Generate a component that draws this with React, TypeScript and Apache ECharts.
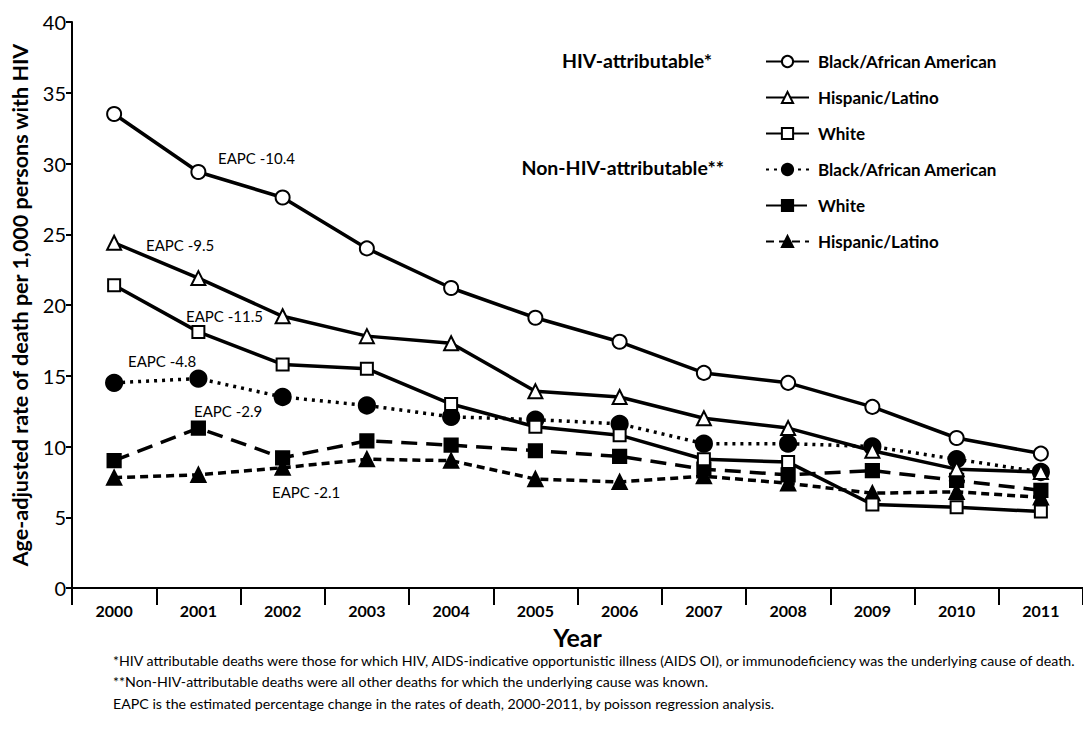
import React, { useEffect, useRef } from "react";
import * as echarts from "echarts";

const years = ["2000", "2001", "2002", "2003", "2004", "2005", "2006", "2007", "2008", "2009", "2010", "2011"];
const hivBlack = [33.5, 29.4, 27.6, 24.0, 21.2, 19.1, 17.4, 15.2, 14.5, 12.8, 10.6, 9.5];
const hivHispanic = [24.4, 21.9, 19.2, 17.8, 17.3, 13.9, 13.5, 12.0, 11.3, 9.7, 8.4, 8.2];
const hivWhite = [21.4, 18.1, 15.8, 15.5, 13.0, 11.4, 10.8, 9.1, 8.9, 5.9, 5.7, 5.4];
const nonBlack = [14.5, 14.8, 13.5, 12.9, 12.1, 11.9, 11.6, 10.2, 10.2, 10.0, 9.1, 8.2];
const nonWhite = [9.0, 11.3, 9.2, 10.4, 10.1, 9.7, 9.3, 8.4, 8.0, 8.3, 7.6, 6.9];
const nonHispanic = [7.8, 8.0, 8.5, 9.1, 9.0, 7.7, 7.5, 7.9, 7.4, 6.7, 6.8, 6.4];

const legendLabels: Record<string, string> = {
  hivBlack: "Black/African American",
  hivHispanic: "Hispanic/Latino",
  hivWhite: "White",
  nonBlack: "Black/African American",
  nonWhite: "White",
  nonHispanic: "Hispanic/Latino",
};

const eapcLabels = [
  { text: "EAPC -10.4", x: 218, y: 158 },
  { text: "EAPC -9.5", x: 146, y: 245 },
  { text: "EAPC -11.5", x: 186, y: 316 },
  { text: "EAPC -4.8", x: 128, y: 361 },
  { text: "EAPC -2.9", x: 194, y: 411 },
  { text: "EAPC -2.1", x: 272, y: 492 },
];

const footnotes = [
  "*HIV attributable deaths were those for which HIV, AIDS-indicative opportunistic illness (AIDS OI), or immunodeficiency was the underlying cause of death.",
  "**Non-HIV-attributable deaths were all other deaths for which the underlying cause was known.",
  "EAPC is the estimated percentage change in the rates of death, 2000-2011, by poisson regression analysis.",
];

const FONT = "Lato, 'Open Sans', sans-serif";

export default function App() {
  const ref = useRef<HTMLDivElement>(null);
  useEffect(() => {
    if (!ref.current) return;
    const chart = echarts.init(ref.current, undefined, { renderer: "svg" });
    const base = (name: string, data: number[], symbol: string, size: number, lineType: any, width: number) => ({
      name,
      type: "line",
      data,
      symbol,
      symbolSize: size,
      showSymbol: true,
      lineStyle: { color: "#000", width, type: lineType },
      itemStyle: { color: "#000", borderColor: "#000", borderWidth: 2.2 },
      emphasis: { disabled: true },
    });
    chart.setOption({
      animation: false,
      backgroundColor: "#fff",
      textStyle: { fontFamily: FONT, color: "#000" },
      grid: { left: 72, right: -4, top: 22, bottom: 150 },
      xAxis: {
        type: "category",
        data: years,
        boundaryGap: true,
        axisLine: { lineStyle: { color: "#000", width: 2 } },
        axisTick: { show: true, alignWithLabel: false, length: 17, lineStyle: { color: "#000", width: 2 } },
        axisLabel: { color: "#000", fontWeight: "bold", fontSize: 16, margin: 14, fontFamily: FONT },
        name: "Year",
        nameLocation: "middle",
        nameGap: 36,
        nameTextStyle: { fontWeight: "bold", fontSize: 25, color: "#000", fontFamily: FONT },
      },
      yAxis: {
        type: "value",
        min: 0,
        max: 40,
        interval: 5,
        splitLine: { show: false },
        axisLine: { show: true, lineStyle: { color: "#000", width: 2 } },
        axisTick: { show: true, length: 6, lineStyle: { color: "#000", width: 2 } },
        axisLabel: { color: "#000", fontSize: 20, margin: 6, fontFamily: FONT },
        name: "Age-adjusted rate of death per 1,000 persons with HIV",
        nameLocation: "middle",
        nameGap: 41,
        nameTextStyle: { fontWeight: "bold", fontSize: 21.5, color: "#000", fontFamily: FONT },
      },
      legend: {
        orient: "vertical",
        left: 760,
        top: 48,
        itemWidth: 43,
        itemHeight: 14,
        itemGap: 19,
        selectedMode: false,
        formatter: (n: string) => legendLabels[n],
        textStyle: { fontWeight: "bold", fontSize: 17, color: "#000", fontFamily: FONT, padding: [0, 0, 0, 4] },
        data: ["hivBlack", "hivHispanic", "hivWhite", "nonBlack", "nonWhite", "nonHispanic"],
      },
      series: [
        base("nonHispanic", nonHispanic, "triangle", 14, [8, 5], 3.5),
        base("nonWhite", nonWhite, "rect", 13, [16, 9], 3.5),
        base("nonBlack", nonBlack, "circle", 16, [3, 5], 3.5),
        base("hivWhite", hivWhite, "emptyRect", 12, "solid", 3.5),
        base("hivHispanic", hivHispanic, "emptyTriangle", 14, "solid", 3.5),
        base("hivBlack", hivBlack, "emptyCircle", 14, "solid", 3.5),
      ],
      graphic: [
        ...eapcLabels.map((l) => ({
          type: "text",
          x: l.x,
          y: l.y,
          style: { text: l.text, fontSize: 15, fill: "#000", fontFamily: FONT, verticalAlign: "middle" },
        })),
        {
          type: "text",
          x: 712,
          y: 60,
          style: { text: "HIV-attributable*", fontSize: 19.5, fontWeight: "bold", fill: "#000", fontFamily: FONT, align: "right", verticalAlign: "middle" },
        },
        {
          type: "text",
          x: 724,
          y: 167,
          style: { text: "Non-HIV-attributable**", fontSize: 19.5, fontWeight: "bold", fill: "#000", fontFamily: FONT, align: "right", verticalAlign: "middle" },
        },
        ...footnotes.map((t, i) => ({
          type: "text",
          x: 113,
          y: 660 + i * 21.5,
          style: { text: t, fontSize: 14.2, fill: "#000", fontFamily: FONT, verticalAlign: "middle" },
        })),
      ],
    });
    return () => chart.dispose();
  }, []);
  return <div ref={ref} style={{ position: "fixed", left: 0, top: 0, width: 1083, height: 738 }} />;
}
